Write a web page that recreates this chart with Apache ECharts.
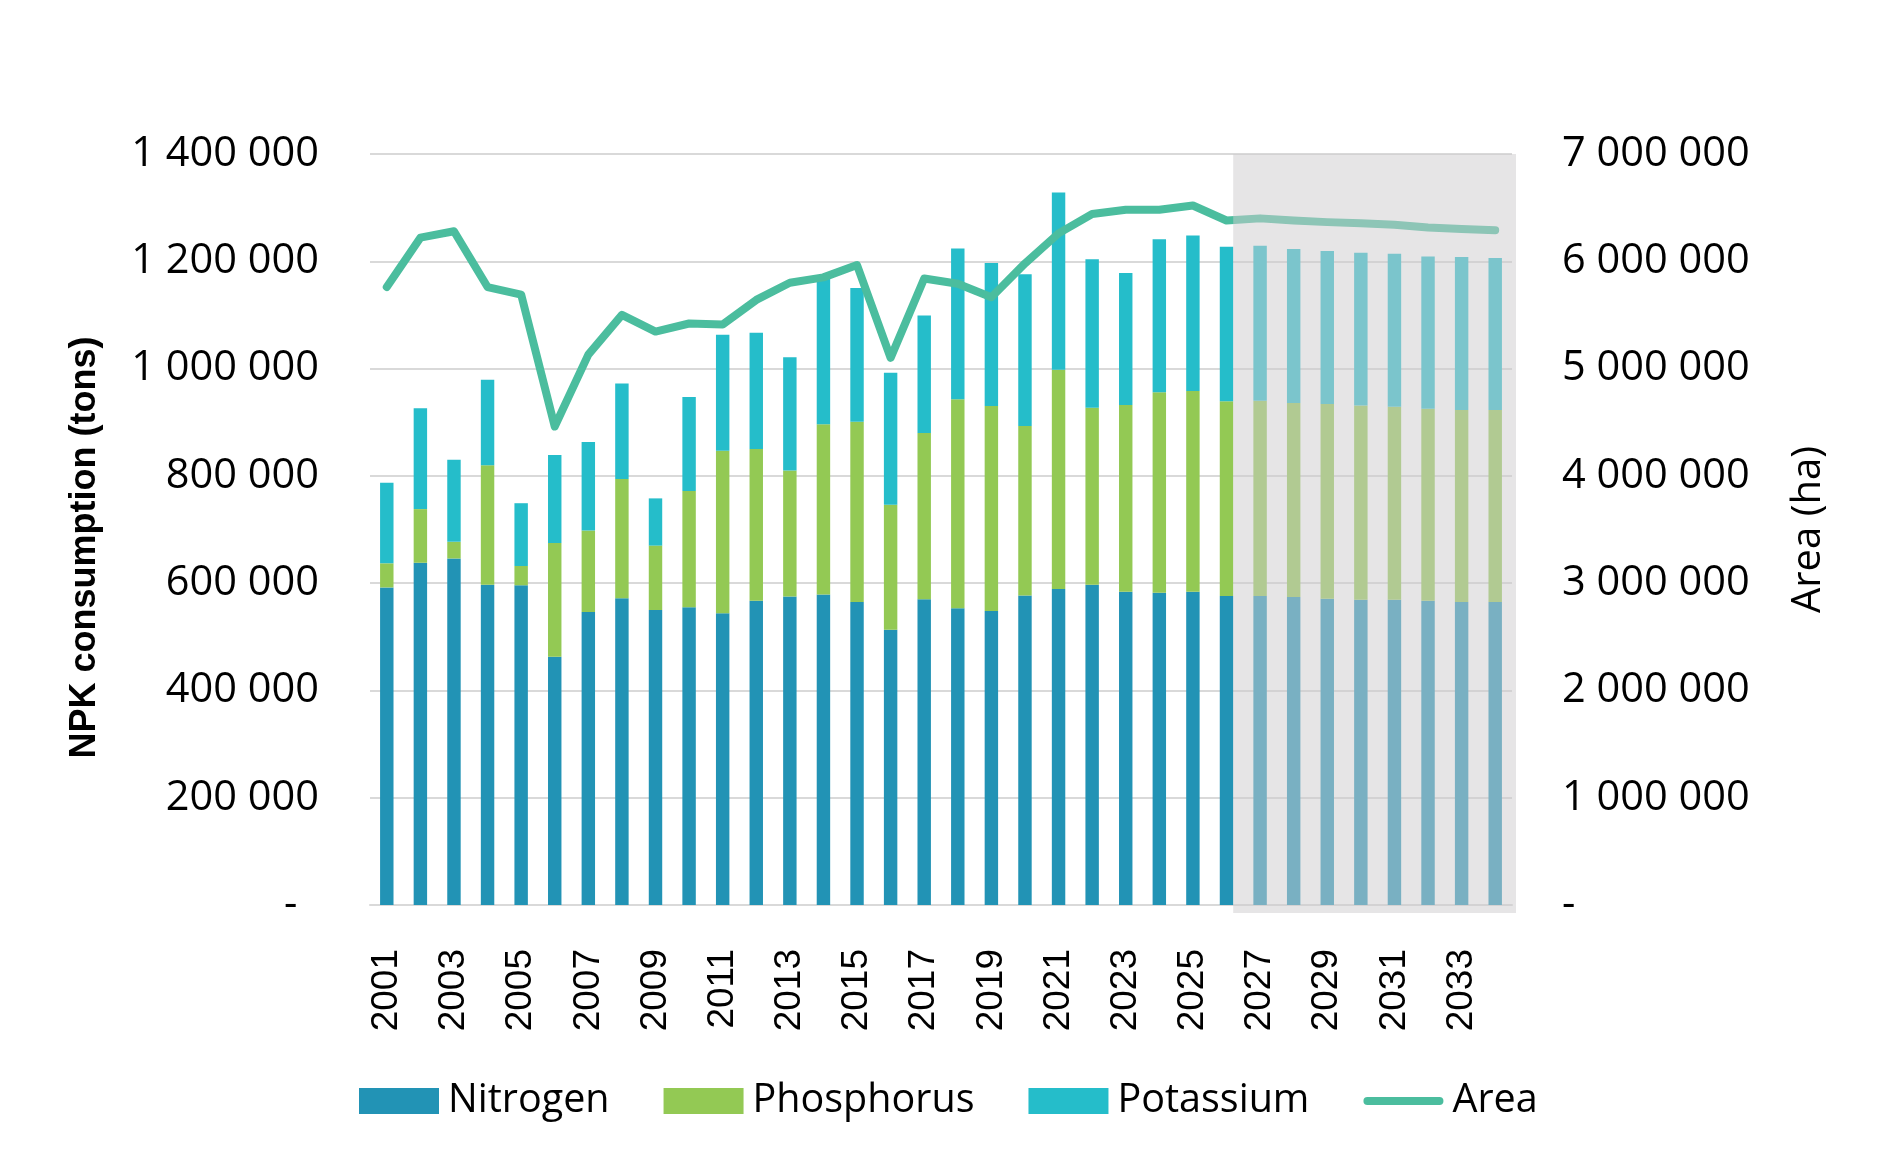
<!DOCTYPE html>
<html>
<head>
<meta charset="utf-8">
<script src="https://cdn.jsdelivr.net/npm/echarts@6/dist/echarts.min.js"></script>
<style>
html,body{margin:0;padding:0;background:#fff;}
#c{width:1883px;height:1162px;}
</style>
</head>
<body>
<div id="c"></div>
<script>
const years = ['2001','2002','2003','2004','2005','2006','2007','2008','2009','2010','2011','2012','2013','2014','2015','2016','2017','2018','2019','2020','2021','2022','2023','2024','2025','2026','2027','2028','2029','2030','2031','2032','2033','2034'];
const nitrogen = [592000,638000,646000,597000,596000,463000,546000,572000,550000,555000,544000,567000,575000,579000,565000,513000,570000,553000,548000,577000,589000,597000,584000,582000,584000,576000,576000,574000,571000,569000,569000,567000,565000,565000];
const phosphorus = [45000,100000,31000,223000,36000,212000,152000,222000,120000,217000,303000,283000,235000,317000,336000,233000,310000,390000,382000,316000,409000,330000,348000,374000,374000,363000,364000,362000,363000,362000,360000,358000,358000,358000];
const potassium = [150000,188000,153000,159000,117000,164000,165000,178000,88000,175000,216000,217000,211000,274000,249000,246000,219000,281000,267000,283000,330000,277000,246000,285000,290000,288000,289000,287000,285000,285000,285000,284000,285000,283000];
const area = [5760000,6220000,6280000,5760000,5690000,4460000,5130000,5500000,5345000,5420000,5410000,5640000,5800000,5850000,5965000,5100000,5840000,5790000,5665000,5980000,6260000,6440000,6480000,6480000,6520000,6380000,6400000,6380000,6365000,6355000,6340000,6315000,6300000,6290000];
const forecastStart = '2026';
const leftTicks = {min:0, max:1400000, interval:200000};
const rightTicks = {min:0, max:7000000, interval:1000000};

function fmt(v){
  return String(Math.round(v)).replace(/\B(?=(\d{3})+(?!\d))/g,' ');
}

const chart = echarts.init(document.getElementById('c'));
const tickFont = {fontFamily:'Open Sans', fontSize:41.5, color:'#000'};
const lineIcon = 'path://M4,0 L76,0 A4,4 0 0 1 76,8 L4,8 A4,4 0 0 1 4,0 Z';
chart.setOption({
  animation:false,
  backgroundColor:'#fff',
  grid:{left:370, right:371, top:154, bottom:257, containLabel:false},
  legend:{
    left:354, top:1074,
    itemWidth:80, itemHeight:26, itemGap:54,
    symbolKeepAspect:true,
    textStyle:{fontFamily:'Open Sans', fontSize:39.5, color:'#000', padding:[0,0,0,4], lineHeight:44},
    data:[
      {name:'Nitrogen', icon:'rect'},
      {name:'Phosphorus', icon:'rect'},
      {name:'Potassium', icon:'rect'},
      {name:'Area', icon:lineIcon, itemStyle:{color:'#4bbd9e'}}
    ]
  },
  xAxis:{
    type:'category', data:years,
    axisLine:{lineStyle:{color:'#d9d9d9', width:2}},
    axisTick:{show:false},
    axisLabel:{interval:1, rotate:90, margin:44, fontFamily:'Liberation Sans', fontSize:37, color:'#000'}
  },
  yAxis:[
    {
      type:'value', min:leftTicks.min, max:leftTicks.max, interval:leftTicks.interval,
      name:'NPK consumption (tons)', nameLocation:'middle', nameGap:267, nameRotate:90,
      nameTextStyle:{fontFamily:'Liberation Sans', fontWeight:'bold', fontSize:36, color:'#000', padding:[0,36,0,0]},
      axisLine:{show:false}, axisTick:{show:false},
      splitLine:{lineStyle:{color:'#d9d9d9', width:2}},
      axisLabel:Object.assign({margin:51, formatter:v => v===0 ? '-  ' : fmt(v)}, tickFont)
    },
    {
      type:'value', min:rightTicks.min, max:rightTicks.max, interval:rightTicks.interval,
      name:'Area (ha)', nameLocation:'middle', nameGap:277, nameRotate:90,
      nameTextStyle:{fontFamily:'Open Sans', fontSize:40, color:'#000'},
      axisLine:{show:false}, axisTick:{show:false}, splitLine:{show:false},
      axisLabel:Object.assign({margin:50, formatter:v => v===0 ? '-' : fmt(v)}, tickFont)
    }
  ],
  series:[
    {name:'Nitrogen', type:'bar', stack:'npk', barWidth:'40%', data:nitrogen, itemStyle:{color:'#2293b5'}},
    {name:'Phosphorus', type:'bar', stack:'npk', barWidth:'40%', data:phosphorus, itemStyle:{color:'#93c954'}},
    {name:'Potassium', type:'bar', stack:'npk', barWidth:'40%', data:potassium, itemStyle:{color:'#25bdca'}},
    {name:'Area', type:'line', yAxisIndex:1, data:area, symbol:'none', z:5,
     itemStyle:{color:'#4bbd9e'},
     lineStyle:{color:'#4bbd9e', width:8, cap:'round', join:'round'}}
  ]
});

// forecast shading overlay
const c0 = chart.convertToPixel({xAxisIndex:0}, forecastStart);
const idx = years.indexOf(forecastStart);
const c1 = chart.convertToPixel({xAxisIndex:0}, years[idx+1]);
const band = c1 - c0;
const cLast = chart.convertToPixel({xAxisIndex:0}, years[years.length-1]);
const yTop = chart.convertToPixel({yAxisIndex:0}, leftTicks.max);
const yBot = chart.convertToPixel({yAxisIndex:0}, 0);
const x0 = c0 + band*0.2;
const x1 = cLast + band/2 + 4;
chart.setOption({
  graphic:[{
    type:'rect', z:100, silent:true,
    shape:{x:x0, y:yTop, width:x1-x0, height:(yBot+8)-yTop},
    style:{fill:'rgba(206,204,205,0.51)'}
  }]
});
</script>
</body>
</html>
